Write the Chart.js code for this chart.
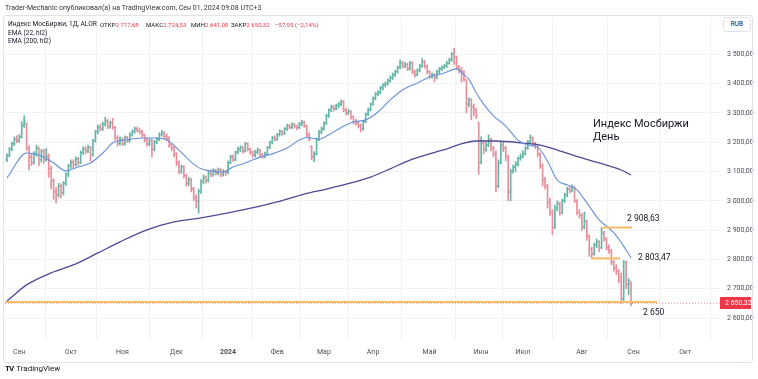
<!DOCTYPE html>
<html>
<head>
<meta charset="utf-8">
<script src="https://cdn.jsdelivr.net/npm/chart.js@4.4.1/dist/chart.umd.min.js"></script>
<style>
  html, body { margin: 0; padding: 0; background: #fff; }
  #wrap { position: relative; width: 758px; height: 379px; overflow: hidden; font-family: Roboto, "Liberation Sans", sans-serif; color: #131722; }
  #c { position: absolute; left: 0; top: 0; }
  .t { position: absolute; white-space: pre; font-size: 7px; line-height: 8px; }
  .lg { font-size: 6.6px; }
  .lv { font-size: 6.1px; }
  .r { color: #f23645; }
  #frame { position: absolute; left: 3px; top: 15px; width: 748px; height: 346px; border: 1px solid #e0e3eb; border-radius: 3px; pointer-events: none; }
  #rub { position: absolute; left: 723px; top: 17px; width: 26px; height: 13px; border: 1px solid #e0e3eb; border-radius: 3px; font-size: 6.5px; line-height: 13px; text-align: center; color: #131722; background: #fff; }
  #title { position: absolute; left: 593px; top: 118px; font-size: 11px; line-height: 12.5px; color: #131722; white-space: pre; }
  #logo { position: absolute; left: 5px; top: 364px; font-size: 8px; line-height: 10px; color: #131722; white-space: pre; }
  #logo b { font-size: 8px; letter-spacing: -1px; margin-right: 3px; }
</style>
</head>
<body>
<div id="wrap">
  <canvas id="c" width="758" height="379"></canvas>
  <div id="frame"></div>
  <div class="t" style="left:5px;top:4px;color:#333">Trader-Mechanic опубликовал(а) на TradingView.com, Сен 01, 2024 09:08 UTC+3</div>
  <div class="t lg" style="left:8px;top:20px">Индекс МосБиржи, 1Д, ALOR</div>
  <div class="t lv" style="left:100px;top:20.5px">ОТКР<span class="r">2 717,68</span></div>
  <div class="t lv" style="left:146px;top:20.5px">МАКС<span class="r">2 724,53</span></div>
  <div class="t lv" style="left:191px;top:20.5px">МИН<span class="r">2 641,08</span></div>
  <div class="t lv" style="left:231px;top:20.5px">ЗАКР<span class="r">2 650,32</span></div>
  <div class="t lv r" style="left:275px;top:20.5px">−57,95 (−2,14%)</div>
  <div class="t lg" style="left:8px;top:29px">EMA (22, hl2)</div>
  <div class="t lg" style="left:8px;top:37px">EMA (200, hl2)</div>
  <div id="rub">RUB</div>
  <div id="title">Индекс Мосбиржи
День</div>
  <div id="logo"><b>TV</b>TradingView</div>
</div>
<script>
// daily bars, Aug 2023 .. Aug 30 2024 (index = trading day)
const opens = [
  3140,3155,3176,3195,3210,3204,3218,3258,3262,3180,
  3150,3130,3160,3178,3140,3168,3140,3150,3110,3068,
  3030,3020,3050,3028,3060,3090,3120,3132,3124,3142,
  3130,3165,3176,3170,3182,3158,3205,3236,3250,3244,
  3262,3272,3254,3266,3250,3215,3195,3210,3194,3216,
  3205,3226,3236,3246,3240,3235,3225,3208,3194,3206,
  3176,3200,3210,3226,3232,3220,3214,3190,3180,3160,
  3130,3100,3116,3086,3060,3072,3040,3010,2998,3032,
  3066,3080,3070,3096,3090,3102,3094,3106,3090,3100,
  3096,3130,3150,3140,3166,3176,3182,3170,3195,3176,
  3166,3156,3166,3172,3156,3150,3160,3182,3200,3215,
  3210,3226,3236,3230,3246,3256,3250,3260,3254,3250,
  3262,3268,3255,3225,3185,3150,3160,3210,3235,3245,
  3265,3290,3310,3320,3314,3325,3330,3338,3310,3300,
  3305,3285,3270,3265,3255,3246,3270,3295,3310,3330,
  3350,3365,3370,3385,3395,3400,3410,3420,3430,3440,
  3455,3470,3460,3465,3450,3470,3440,3430,3445,3460,
  3475,3460,3440,3425,3430,3420,3440,3450,3455,3460,
  3470,3480,3505,3490,3455,3445,3440,3412,3330,3345,
  3320,3310,3266,3130,3195,3175,3190,3210,3180,3160,
  3050,3130,3190,3180,3150,3030,3100,3115,3125,3145,
  3150,3160,3180,3200,3215,3195,3185,3160,3120,3070,
  3050,2995,2960,2910,2975,2990,2960,3000,3020,3040,
  3035,3045,3000,2960,2950,2910,2930,2880,2835,2820,
  2850,2860,2840,2890,2870,2840,2830,2790,2770,2760,
  2740,2665,2790,2715,2717.68
];
const highs = [
  3160,3182,3200,3218,3222,3226,3270,3290,3266,3188,
  3162,3168,3190,3184,3175,3176,3178,3160,3118,3075,
  3045,3060,3058,3066,3095,3125,3140,3140,3150,3148,
  3170,3185,3184,3190,3186,3210,3240,3258,3262,3268,
  3285,3278,3272,3282,3254,3222,3218,3214,3222,3220,
  3232,3242,3252,3252,3248,3240,3228,3214,3212,3210,
  3206,3216,3232,3240,3236,3228,3218,3196,3186,3164,
  3136,3122,3120,3092,3080,3076,3046,3020,3040,3072,
  3088,3085,3100,3106,3110,3108,3112,3110,3106,3104,
  3136,3156,3156,3170,3182,3188,3186,3200,3198,3180,
  3170,3172,3180,3176,3162,3166,3186,3204,3220,3222,
  3230,3242,3240,3250,3262,3260,3266,3264,3258,3268,
  3275,3272,3258,3232,3188,3168,3214,3240,3252,3270,
  3295,3314,3326,3326,3330,3336,3344,3342,3316,3312,
  3308,3290,3278,3270,3262,3274,3300,3316,3334,3355,
  3370,3376,3390,3400,3406,3416,3426,3436,3446,3460,
  3481,3476,3472,3470,3476,3474,3446,3450,3466,3485,
  3480,3464,3444,3436,3434,3446,3455,3460,3466,3476,
  3486,3505,3521,3494,3462,3455,3444,3414,3352,3348,
  3330,3316,3268,3218,3205,3200,3225,3214,3186,3170,
  3140,3200,3200,3186,3156,3108,3122,3134,3150,3160,
  3170,3186,3206,3225,3218,3200,3190,3164,3126,3080,
  3056,3010,2970,2985,3000,2996,3006,3026,3046,3048,
  3054,3050,3004,2970,2956,2962,2934,2884,2842,2856,
  2870,2864,2908.63,2896,2874,2850,2834,2796,2782,2766,
  2754,2796,2794,2735,2724.53
];
const lows = [
  3133,3150,3170,3188,3198,3200,3214,3250,3172,3105,
  3120,3125,3152,3120,3132,3128,3135,3080,3040,3005,
  2993,3012,3010,3020,3052,3082,3110,3112,3118,3120,
  3126,3158,3160,3164,3135,3152,3200,3228,3238,3240,
  3255,3246,3248,3244,3208,3186,3190,3188,3190,3198,
  3200,3220,3230,3234,3228,3218,3200,3186,3188,3150,
  3170,3195,3205,3220,3212,3206,3182,3170,3150,3120,
  3092,3094,3078,3050,3052,3030,3000,2975,2958,3025,
  3058,3060,3064,3082,3084,3088,3088,3082,3084,3086,
  3092,3126,3134,3136,3160,3168,3162,3166,3170,3158,
  3148,3150,3160,3150,3145,3146,3156,3178,3194,3204,
  3206,3220,3224,3226,3240,3244,3246,3248,3242,3246,
  3256,3250,3218,3204,3140,3133,3156,3205,3228,3240,
  3260,3284,3304,3306,3310,3316,3324,3304,3292,3294,
  3278,3262,3258,3248,3235,3240,3266,3290,3306,3325,
  3344,3358,3364,3378,3388,3394,3404,3414,3424,3435,
  3450,3452,3454,3444,3446,3434,3422,3426,3440,3455,
  3452,3434,3418,3418,3405,3416,3434,3444,3450,3455,
  3466,3476,3465,3448,3436,3405,3408,3300,3320,3276,
  3290,3280,3090,3126,3160,3168,3185,3170,3150,3030,
  3044,3126,3168,3136,3000,3000,3094,3100,3118,3138,
  3146,3156,3175,3196,3188,3178,3150,3110,3050,3040,
  2975,2950,2884,2905,2965,2950,2955,2994,3014,3026,
  3030,2994,2952,2940,2900,2904,2865,2810,2803.47,2814,
  2840,2826,2836,2862,2832,2820,2782,2760,2748,2720,
  2650,2660,2700,2680,2641.08
];
const closes = [
  3155,3176,3195,3210,3204,3218,3258,3272,3180,3148,
  3130,3160,3180,3140,3168,3140,3152,3110,3068,3030,
  3020,3050,3028,3060,3090,3120,3132,3124,3142,3130,
  3165,3176,3170,3182,3158,3205,3236,3250,3244,3262,
  3272,3254,3266,3250,3215,3195,3210,3194,3216,3205,
  3226,3236,3246,3240,3235,3225,3208,3194,3206,3176,
  3200,3210,3226,3232,3220,3214,3190,3180,3160,3130,
  3100,3116,3086,3060,3072,3040,3010,2998,3032,3066,
  3080,3070,3096,3090,3102,3094,3106,3090,3100,3096,
  3130,3150,3140,3166,3176,3182,3170,3195,3176,3166,
  3156,3166,3172,3156,3150,3160,3182,3200,3215,3210,
  3226,3236,3230,3246,3256,3250,3260,3254,3250,3262,
  3268,3255,3225,3210,3150,3160,3210,3235,3245,3265,
  3290,3310,3320,3314,3325,3330,3338,3310,3300,3305,
  3285,3270,3265,3255,3246,3270,3295,3310,3330,3350,
  3365,3370,3385,3395,3400,3410,3420,3430,3440,3455,
  3470,3460,3465,3450,3470,3440,3430,3445,3460,3475,
  3460,3440,3425,3430,3420,3440,3450,3455,3460,3470,
  3480,3500,3490,3455,3445,3440,3415,3330,3345,3320,
  3310,3290,3130,3195,3175,3190,3210,3180,3160,3050,
  3130,3190,3180,3150,3030,3100,3115,3125,3145,3150,
  3160,3180,3200,3215,3195,3185,3160,3120,3070,3050,
  2995,2960,2910,2975,2990,2960,3000,3020,3040,3035,
  3045,3000,2960,2950,2910,2930,2880,2835,2820,2850,
  2860,2840,2890,2870,2840,2830,2790,2770,2760,2730,
  2665,2790,2715,2728,2650.32
];

// EMA values at sample bars
const ema22At  = [0, 8, 15, 19, 24, 29, 34, 39, 43, 49, 55, 61, 65, 70, 75, 79, 83, 88, 92, 98, 103, 108, 114, 119, 122, 124, 127, 131, 136, 141, 146, 151, 156, 161, 167, 172, 178, 183, 186, 188, 191, 194, 198, 203, 208, 212, 216, 220, 224, 228, 232, 236, 241, 247, 252, 254];
const ema22Val = [3078, 3163, 3149, 3129, 3102, 3115, 3129, 3163, 3197, 3208, 3214, 3214, 3208, 3173, 3132, 3109, 3102, 3098, 3115, 3132, 3149, 3160, 3180, 3207, 3216, 3214, 3210, 3225, 3250, 3269, 3276, 3303, 3344, 3378, 3402, 3422, 3436, 3450, 3430, 3415, 3368, 3330, 3290, 3255, 3207, 3190, 3183, 3135, 3070, 3054, 3037, 2993, 2935, 2891, 2832, 2805];
const ema200At  = [0, 8, 18, 27, 37, 46, 57, 68, 79, 90, 103, 110, 121, 130, 140, 148, 156, 164, 172, 180, 186, 191, 199, 210, 217, 224, 233, 241, 250, 254];
const ema200Val = [2658, 2713, 2754, 2781, 2822, 2860, 2901, 2928, 2942, 2959, 2982, 2996, 3023, 3040, 3061, 3081, 3109, 3139, 3160, 3180, 3197, 3204, 3204, 3197, 3190, 3173, 3149, 3129, 3105, 3088];

// month axis: first trading bar of each month
const monthAt = [5, 26, 47, 69, 90, 110, 129, 149, 172, 193, 210, 234, 255, 276];
const monthLabels = ['Сен', 'Окт', 'Ноя', 'Дек', '2024', 'Фев', 'Мар', 'Апр', 'Май', 'Июн', 'Июл', 'Авг', 'Сен', 'Окт'];
const priceTicks = [2600, 2700, 2800, 2900, 3000, 3100, 3200, 3300, 3400, 3500];

// horizontal levels drawn by the author
const levels = [2908.63, 2803.47, 2655];
const levelFrom = [242, 238, -1];
const levelTo = [254.4, 249.5, 264.6];
const levelLabels = ['2 908,63', '2 803,47', '2 650'];

const X_MIN = -0.8, X_MAX = 290.2;
const UP = '#62b5a7', DOWN = '#e68f9b';
const bars = closes.map((c, i) => i);
const barColors = bars.map(i => closes[i] >= opens[i] ? UP : DOWN);
const lastClose = closes[closes.length - 1];

function fmt(v) {
    const parts = v.toFixed(2).split('.');
    return parts[0].replace(/\B(?=(\d{3})+(?!\d))/g, ' ') + ',' + parts[1];
}

const levelDx = [-5, 18, -14];
const levelDy = [-9, -1, 11];

const annotate = {
    id: 'annotate',
    afterDraw(chart) {
        const { ctx, scales: { x, y } } = chart;
        ctx.save();
        ctx.font = '8.5px Roboto, "Liberation Sans", sans-serif';
        ctx.fillStyle = '#131722';
        ctx.textBaseline = 'middle';
        levels.forEach((v, k) => {
            const px = x.getPixelForValue(levelTo[k]) + levelDx[k];
            const py = y.getPixelForValue(v) + levelDy[k];
            ctx.fillText(levelLabels[k], px, py);
        });
        // last price tag on the price scale
        const ly = Math.round(y.getPixelForValue(lastClose));
        ctx.fillStyle = '#f23645';
        ctx.fillRect(x.right, ly - 6, 31, 12);
        ctx.fillStyle = '#fff';
        ctx.font = '7px Roboto, "Liberation Sans", sans-serif';
        ctx.fillText(fmt(lastClose), x.right + 5, ly + 0.5);
        ctx.restore();
    }
};

Chart.defaults.font.family = 'Roboto, "Liberation Sans", sans-serif';

new Chart(document.getElementById('c'), {
    type: 'bar',
    data: {
        datasets: [
            {
                type: 'line',
                data: levels.map((v, k) => [{ x: levelFrom[k], y: v }, { x: levelTo[k], y: v }]).flat(),
                borderColor: '#f6bd68',
                borderWidth: 2,
                pointRadius: 0,
                segment: { borderColor: s => (s.p0DataIndex % 2 === 1 ? 'transparent' : undefined) },
                order: 1
            },
            {
                type: 'line',
                data: [{ x: X_MIN, y: lastClose }, { x: X_MAX, y: lastClose }],
                borderColor: 'rgba(242,54,69,0.55)',
                borderWidth: 1,
                borderDash: [1, 2],
                pointRadius: 0,
                order: 2
            },
            {
                type: 'line',
                data: ema22At.map((b, k) => ({ x: b, y: ema22Val[k] })),
                borderColor: '#6690dd',
                borderWidth: 1.1,
                pointRadius: 0,
                cubicInterpolationMode: 'monotone',
                order: 2
            },
            {
                type: 'line',
                data: ema200At.map((b, k) => ({ x: b, y: ema200Val[k] })),
                borderColor: '#4d4a96',
                borderWidth: 1.3,
                pointRadius: 0,
                cubicInterpolationMode: 'monotone',
                order: 2
            },
            {
                type: 'bar',
                data: bars.map(i => ({ x: i, y: [lows[i], highs[i]] })),
                backgroundColor: barColors,
                borderWidth: 0,
                barThickness: 1,
                order: 5
            },
            {
                type: 'scatter',
                data: bars.map(i => ({ x: i - 0.4, y: opens[i] })),
                pointStyle: 'line',
                pointRadius: 0.8,
                pointBorderWidth: 1,
                pointBorderColor: barColors,
                order: 5
            },
            {
                type: 'scatter',
                data: bars.map(i => ({ x: i + 0.4, y: closes[i] })),
                pointStyle: 'line',
                pointRadius: 0.8,
                pointBorderWidth: 1,
                pointBorderColor: barColors,
                order: 5
            }
        ]
    },
    options: {
        responsive: false,
        animation: false,
        devicePixelRatio: 1,
        events: [],
        layout: { padding: { left: 5, top: 17, right: 0, bottom: 0 } },
        plugins: { legend: { display: false }, tooltip: { enabled: false } },
        scales: {
            x: {
                type: 'linear',
                min: X_MIN,
                max: X_MAX,
                offset: false,
                border: { display: false },
                grid: { color: '#f0f2f6', drawTicks: false },
                afterBuildTicks: s => { s.ticks = monthAt.map(v => ({ value: v })); },
                afterFit: s => { s.height = 39; },
                ticks: {
                    autoSkip: false,
                    maxRotation: 0,
                    padding: 8,
                    color: '#4a4f5c',
                    font: c => ({ size: 7, weight: c.tick && c.tick.label === '2024' ? 'bold' : 'normal' }),
                    callback: v => monthLabels[monthAt.indexOf(v)]
                }
            },
            y: {
                position: 'right',
                min: 2525,
                max: 3627,
                border: { display: false },
                grid: { color: '#f0f2f6', drawTicks: false },
                afterBuildTicks: s => { s.ticks = priceTicks.map(v => ({ value: v })); },
                afterFit: s => { s.width = 38; },
                ticks: {
                    padding: 7,
                    color: '#4a4f5c',
                    font: { size: 7 },
                    callback: v => fmt(v)
                }
            }
        }
    },
    plugins: [annotate]
});
</script>
</body>
</html>
